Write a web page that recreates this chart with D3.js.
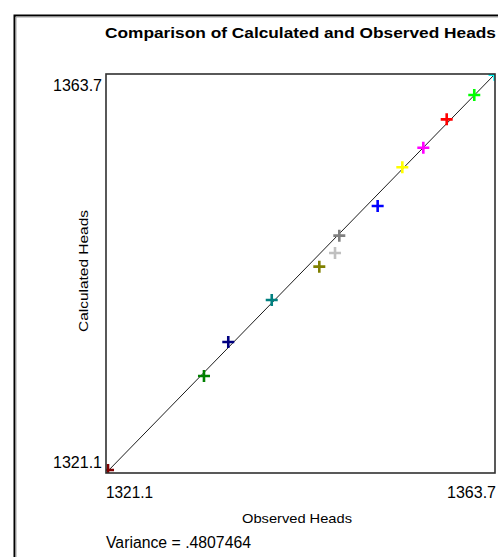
<!DOCTYPE html>
<html>
<head>
<meta charset="utf-8">
<script src="https://cdn.jsdelivr.net/npm/d3@7"></script>
<style>
body { margin: 0; background: #fff; }
text { font-family: "Liberation Sans", Arial, sans-serif; fill: #000; }
</style>
</head>
<body>
<svg id="chart" width="498" height="557"></svg>
<script>
// observed / calculated heads, one entry per well
var observed   = [1321.32, 1331.83, 1334.49, 1339.25, 1344.46, 1346.18, 1346.65, 1350.85, 1353.55, 1355.85, 1358.41, 1361.43, 1363.65];
var calculated = [1321.42, 1331.46, 1335.09, 1339.57, 1343.13, 1344.59, 1346.44, 1349.61, 1353.74, 1355.83, 1358.86, 1361.46, 1363.62];
var colors     = ["#800000", "#008000", "#000080", "#008080", "#808000", "#c0c0c0", "#808080", "#0000ff", "#ffff00", "#ff00ff", "#ff0000", "#00ff00", "#00ffff"];
var headMin = 1321.1, headMax = 1363.7;
var tickLabels = ["1321.1", "1363.7"];
var variance = ".4807464";

var svg = d3.select("#chart");

//outer window frame
svg.append("path").attr("d", "M14.5,557 V15.5 H498").attr("fill", "none").attr("stroke", "#000").attr("stroke-width", 2);
svg.append("path").attr("d", "M16,557 V17 H498").attr("fill", "none").attr("stroke", "#a0a0a0").attr("stroke-width", 1);

//plot box
var pLeft = 106, pTop = 74, pRight = 495, pBottom = 473;
var x = d3.scaleLinear().domain([headMin, headMax]).range([pLeft, pRight]);
var y = d3.scaleLinear().domain([headMin, headMax]).range([pBottom, pTop]);

svg.append("defs").append("clipPath").attr("id", "plotclip")
    .append("rect").attr("x", pLeft).attr("y", pTop).attr("width", pRight - pLeft).attr("height", pBottom - pTop);

//title
svg.append("text")
    .attr("x", 105).attr("y", 37.5)
    .attr("font-size", 15).attr("font-weight", "bold")
    .attr("textLength", 391).attr("lengthAdjust", "spacingAndGlyphs")
    .text("Comparison of Calculated and Observed Heads");

var g = svg.append("g").attr("clip-path", "url(#plotclip)");

//1:1 line
g.append("line")
    .attr("x1", x(headMin)).attr("y1", y(headMin))
    .attr("x2", x(headMax)).attr("y2", y(headMax))
    .attr("stroke", "#000").attr("stroke-width", 0.9);

//points drawn as crosses
var pts = observed.map(function(d, i) { return {obs: d, calc: calculated[i], color: colors[i]}; });
var arm = 6;
var cross = g.selectAll(".pt").data(pts).enter().append("g")
    .attr("class", "pt")
    .attr("transform", function(d) { return "translate(" + x(d.obs) + "," + y(d.calc) + ")"; });
cross.append("path")
    .attr("d", "M" + (-arm) + ",0H" + arm + "M0," + (-arm) + "V" + arm)
    .attr("stroke", function(d) { return d.color; })
    .attr("stroke-width", 2.6)
    .attr("fill", "none");

//box border
svg.append("rect")
    .attr("x", pLeft).attr("y", pTop).attr("width", pRight - pLeft).attr("height", pBottom - pTop)
    .attr("fill", "none").attr("stroke", "#303030").attr("stroke-width", 1.6);

//y labels
svg.append("text").attr("x", 102).attr("y", 91).attr("text-anchor", "end").attr("font-size", 16)
    .attr("textLength", 49).attr("lengthAdjust", "spacingAndGlyphs").text(tickLabels[1]);
svg.append("text").attr("x", 102).attr("y", 468).attr("text-anchor", "end").attr("font-size", 16)
    .attr("textLength", 49).attr("lengthAdjust", "spacingAndGlyphs").text(tickLabels[0]);

//x labels
svg.append("text").attr("x", 106).attr("y", 497.5).attr("font-size", 16)
    .attr("textLength", 47).attr("lengthAdjust", "spacingAndGlyphs").text(tickLabels[0]);
svg.append("text").attr("x", 496).attr("y", 497.5).attr("text-anchor", "end").attr("font-size", 16)
    .attr("textLength", 49).attr("lengthAdjust", "spacingAndGlyphs").text(tickLabels[1]);

//axis titles
svg.append("text").attr("x", 242).attr("y", 522.5).attr("font-size", 13)
    .attr("textLength", 110).attr("lengthAdjust", "spacingAndGlyphs").text("Observed Heads");
svg.append("text")
    .attr("transform", "translate(88,332) rotate(-90)")
    .attr("font-size", 13)
    .attr("textLength", 122).attr("lengthAdjust", "spacingAndGlyphs")
    .text("Calculated Heads");

//variance
svg.append("text").attr("x", 106).attr("y", 548).attr("font-size", 16)
    .attr("textLength", 145).attr("lengthAdjust", "spacingAndGlyphs")
    .text("Variance = " + variance);
</script>
</body>
</html>
